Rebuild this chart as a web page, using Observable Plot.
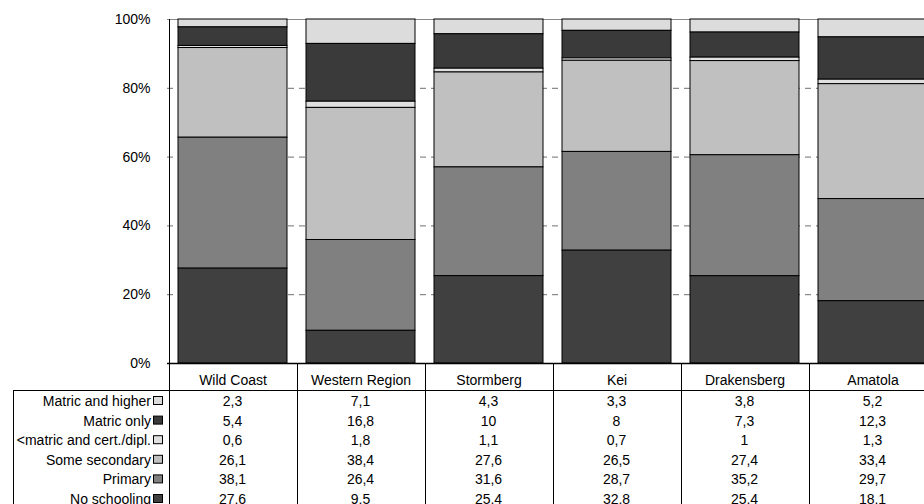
<!DOCTYPE html>
<html><head><meta charset="utf-8">
<script src="https://cdn.jsdelivr.net/npm/d3@7"></script>
<script src="https://cdn.jsdelivr.net/npm/@observablehq/plot@0.6"></script>
<style>
html,body{margin:0;padding:0;background:#fff;overflow:hidden;}
#chart{width:924px;height:504px;overflow:hidden;}
</style></head><body><div id="chart"></div>
<script>
const regions = ["Wild Coast","Western Region","Stormberg","Kei","Drakensberg","Amatola"];
const seriesNames = ["Matric and higher","Matric only","<matric and cert./dipl.","Some secondary","Primary","No schooling"];
const matricHigher = [2.3, 7.1, 4.3, 3.3, 3.8, 5.2];
const matricOnly = [5.4, 16.8, 10, 8, 7.3, 12.3];
const lessMatric = [0.6, 1.8, 1.1, 0.7, 1, 1.3];
const someSecondary = [26.1, 38.4, 27.6, 26.5, 27.4, 33.4];
const primary = [38.1, 26.4, 31.6, 28.7, 35.2, 29.7];
const noSchooling = [27.6, 9.5, 25.4, 32.8, 25.4, 18.1];
const seriesValues = [matricHigher, matricOnly, lessMatric, someSecondary, primary, noSchooling];
const seriesColors = ["#dcdcdc","#3a3a3a","#e0e0e0","#c0c0c0","#808080","#404040"];

(function () {
const data = [];
seriesNames.forEach((s, i) => regions.forEach((r, j) => data.push({region: r, series: s, value: seriesValues[i][j]})));
const stackOrder = seriesNames.slice().reverse();

const W = 924, H = 504, mLeft = 167, mTop = 19, mBottom = 141;
const step = 128.5;
const FONT = "'Liberation Sans', Arial, sans-serif";

const plot = Plot.plot({
  width: W, height: H,
  marginTop: mTop, marginBottom: mBottom, marginLeft: mLeft, marginRight: 0,
  style: {fontFamily: FONT, fontSize: "14px", color: "#000", background: "#fff"},
  x: {domain: regions, range: [mLeft, mLeft + regions.length * step], paddingInner: 0.15, paddingOuter: 0.075, align: 0.5, tickSize: 0, tickPadding: 12, label: null},
  y: {domain: [0, 1], ticks: 5, tickFormat: d3.format(".0%"), tickSize: 0, tickPadding: 17, label: null},
  color: {domain: seriesNames, range: seriesColors},
  marks: [
    Plot.ruleY([0.2, 0.4, 0.6, 0.8], {stroke: "#707070", strokeDasharray: "6,5", strokeWidth: 1}),
    Plot.ruleY([1], {stroke: "#888", strokeWidth: 1}),
    Plot.barY(data, Plot.stackY({x: "region", y: "value", fill: "series", order: stackOrder, offset: "normalize", stroke: "#000", strokeWidth: 1})),
    Plot.ruleY([0], {stroke: "#000", strokeWidth: 1.5})
  ]
});
document.getElementById("chart").appendChild(plot);

// data table below the chart, aligned on the x scale
const xs = plot.scale("x");
const st = xs.apply(regions[1]) - xs.apply(regions[0]);
const bw = xs.bandwidth;
const edges = regions.map(r => xs.apply(r) - (st - bw) / 2);
edges.push(edges[edges.length - 1] + st);
const svg = d3.select(plot);
const g = svg.append("g").attr("font-family", FONT).attr("font-size", 14).attr("fill", "#000");
const axisY = 363, headLine = 390, tableLeft = 13, rowTop = 401, rowH = 19.6;

g.append("line").attr("x1", tableLeft).attr("x2", W).attr("y1", headLine + 0.5).attr("y2", headLine + 0.5).attr("stroke", "#000");
g.append("line").attr("x1", tableLeft + 0.5).attr("x2", tableLeft + 0.5).attr("y1", headLine).attr("y2", H).attr("stroke", "#000");
edges.forEach((e, i) => {
  g.append("line").attr("x1", Math.round(e) + 0.5).attr("x2", Math.round(e) + 0.5)
    .attr("y1", i === 0 ? mTop : axisY).attr("y2", H).attr("stroke", "#000");
});
seriesNames.forEach((s, i) => {
  const y = rowTop + i * rowH;
  g.append("text").attr("x", 151).attr("y", y).attr("dy", "0.35em").attr("text-anchor", "end").text(s);
  g.append("rect").attr("x", 153.5).attr("y", y - 4.5).attr("width", 9).attr("height", 8)
    .attr("fill", seriesColors[i]).attr("stroke", "#000");
  regions.forEach((r, j) => {
    g.append("text").attr("x", xs.apply(r) + bw / 2).attr("y", y).attr("dy", "0.35em")
      .attr("text-anchor", "middle").text(String(seriesValues[i][j]).replace(".", ","));
  });
});
})();
</script></body></html>
